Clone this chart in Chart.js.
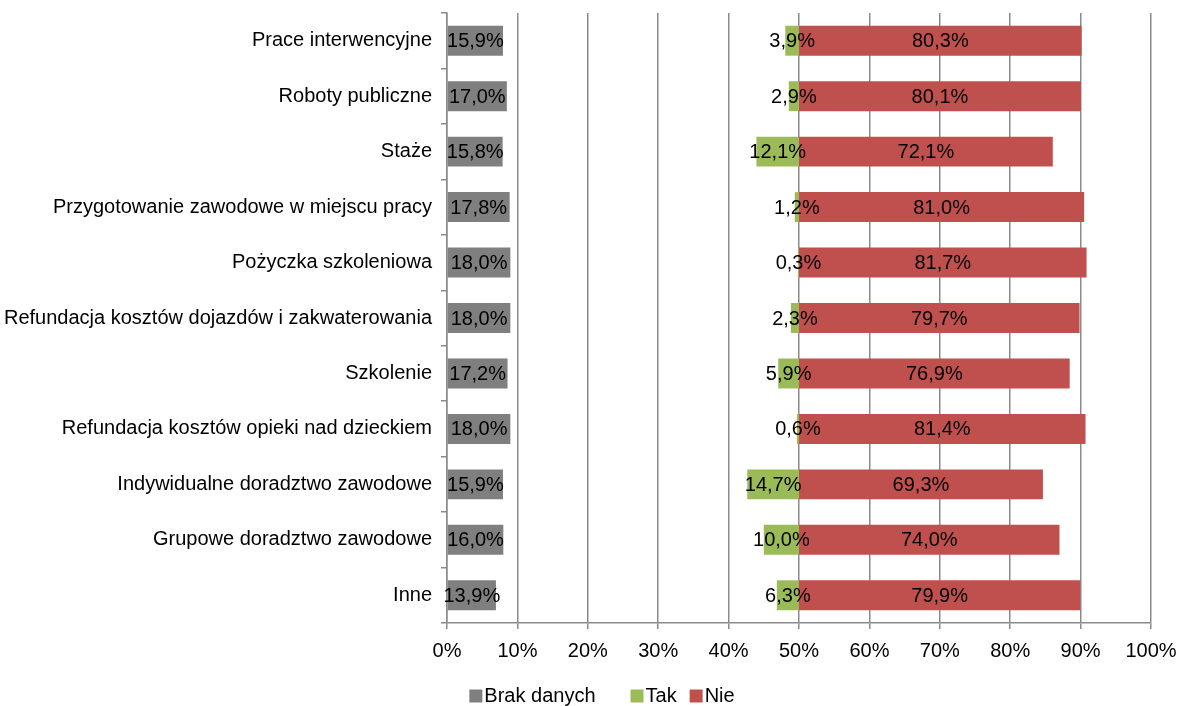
<!DOCTYPE html>
<html>
<head>
<meta charset="utf-8">
<script src="https://cdn.jsdelivr.net/npm/chart.js@4/dist/chart.umd.min.js"></script>
<style>
  html, body { margin: 0; padding: 0; background: #fff; }
  #wrap { width: 1181px; height: 706px; position: relative; }
</style>
</head>
<body>
<div id="wrap"><canvas id="c" width="1181" height="706"></canvas></div>
<script>
const categories = [
  'Prace interwencyjne',
  'Roboty publiczne',
  'Staże',
  'Przygotowanie zawodowe w miejscu pracy',
  'Pożyczka szkoleniowa',
  'Refundacja kosztów dojazdów i zakwaterowania',
  'Szkolenie',
  'Refundacja kosztów opieki nad dzieckiem',
  'Indywidualne doradztwo zawodowe',
  'Grupowe doradztwo zawodowe',
  'Inne'
];
const brakDanych = [15.9, 17.0, 15.8, 17.8, 18.0, 18.0, 17.2, 18.0, 15.9, 16.0, 13.9];
const tak = [3.9, 2.9, 12.1, 1.2, 0.3, 2.3, 5.9, 0.6, 14.7, 10.0, 6.3];
const nie = [80.3, 80.1, 72.1, 81.0, 81.7, 79.7, 76.9, 81.4, 69.3, 74.0, 79.9];
const tickLabels = ['0%', '10%', '20%', '30%', '40%', '50%', '60%', '70%', '80%', '90%', '100%'];

const FONT = '"Liberation Sans", Arial, sans-serif';
const FS = 20;
const fmt = v => v.toFixed(1).replace('.', ',') + '%';

// The chart's axis is drawn on a 0..200 scale: "50%" sits at 100 (the split point of Tak / Nie)
const rawSeries = [brakDanych, tak, nie];

const valueLabels = {
  id: 'valueLabels',
  afterDatasetsDraw(chart) {
    const ctx = chart.ctx;
    ctx.save();
    ctx.font = FS + 'px ' + FONT;
    ctx.fillStyle = '#000';
    ctx.textAlign = 'center';
    ctx.textBaseline = 'middle';
    chart.data.datasets.forEach((ds, i) => {
      const meta = chart.getDatasetMeta(i);
      meta.data.forEach((el, j) => {
        const p = el.getCenterPoint();
        ctx.fillText(fmt(rawSeries[i][j]), p.x, p.y + 1);
      });
    });
    ctx.restore();
  }
};

// Excel-like legend: small square, tight gap, text
const customLegend = {
  id: 'customLegend',
  afterDraw(chart) {
    const ctx = chart.ctx;
    ctx.save();
    ctx.font = FS + 'px ' + FONT;
    ctx.textBaseline = 'middle';
    ctx.textAlign = 'left';
    const box = 13, gapText = 2, gaps = [35, 13];
    const items = chart.data.datasets.map(ds => ({ text: ds.label, color: ds.backgroundColor, w: ctx.measureText(ds.label).width }));
    let total = 0;
    items.forEach((it, i) => { total += box + gapText + it.w + (i < items.length - 1 ? gaps[i] : 0); });
    let x = 602 - total / 2;
    const cy = 696;
    items.forEach((it, i) => {
      ctx.fillStyle = it.color;
      ctx.fillRect(x, cy - box / 2, box, box);
      ctx.fillStyle = '#000';
      ctx.fillText(it.text, x + box + gapText, cy);
      x += box + gapText + it.w + (i < items.length - 1 ? gaps[i] : 0);
    });
    ctx.restore();
  }
};

new Chart(document.getElementById('c'), {
  type: 'bar',
  data: {
    labels: categories,
    datasets: [
      {
        label: 'Brak danych',
        data: brakDanych.map(v => [0, v]),
        backgroundColor: '#7f7f7f'
      },
      {
        label: 'Tak',
        data: tak.map(v => [100 - v, 100]),
        backgroundColor: '#9bbb59'
      },
      {
        label: 'Nie',
        data: nie.map(v => [100, 100 + v]),
        backgroundColor: '#c0504d'
      }
    ]
  },
  options: {
    indexAxis: 'y',
    responsive: false,
    animation: false,
    devicePixelRatio: 1,
    datasets: { bar: { grouped: false, categoryPercentage: 1, barPercentage: 0.54 } },
    layout: { padding: { left: 0, right: 30, top: 13, bottom: 33 } },
    scales: {
      x: {
        min: 0, max: 200,
        ticks: {
          stepSize: 20,
          color: '#000',
          font: { family: FONT, size: FS },
          padding: 10,
          maxRotation: 0,
          callback: (v, i) => tickLabels[Math.round(v / 20)]
        },
        grid: { color: '#8a8a8a', lineWidth: 1.5, tickLength: 6, drawTicks: true },
        border: { color: '#8a8a8a', width: 1.5 },
        afterFit(scale) { scale.paddingLeft = 0; scale.paddingRight = 0; }
      },
      y: {
        ticks: { color: '#000', font: { family: FONT, size: FS }, padding: 9 },
        grid: { drawOnChartArea: false, color: '#8a8a8a', lineWidth: 1.5, tickLength: 6, offset: true },
        border: { color: '#8a8a8a', width: 1.5 },
        afterFit(scale) { scale.width = 447; scale.paddingTop = 0; scale.paddingBottom = 0; }
      }
    },
    plugins: {
      legend: { display: false },
      tooltip: { enabled: false }
    }
  },
  plugins: [valueLabels, customLegend]
});
</script>
</body>
</html>
